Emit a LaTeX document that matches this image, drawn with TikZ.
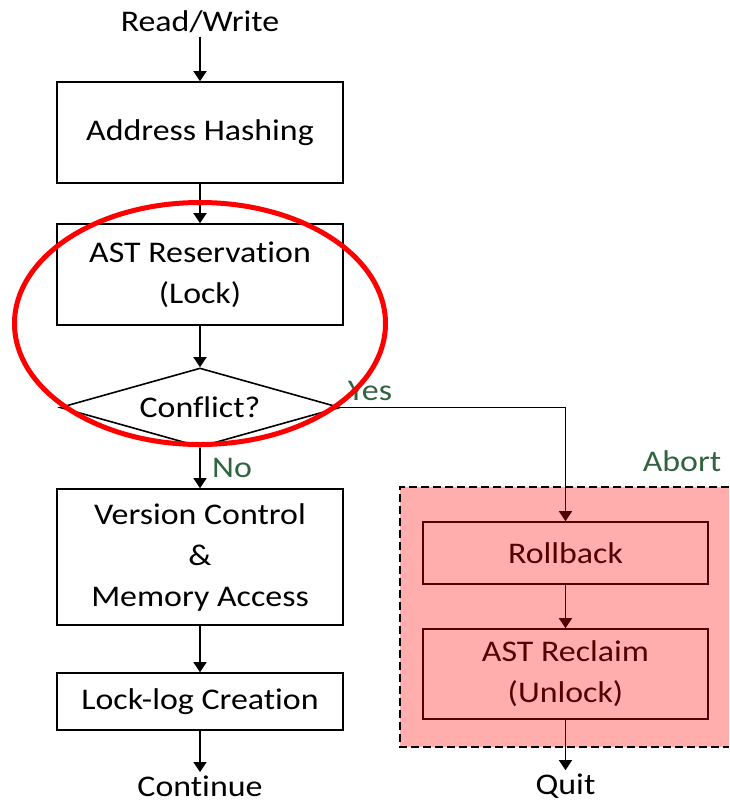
\documentclass[tikz,border=0pt]{standalone}
\usepackage{fontspec}
\setmainfont{Carlito}[FakeStretch=1.13,Ligatures=NoCommon]
\usetikzlibrary{arrows.meta,shapes.geometric}
\definecolor{lblgreen}{RGB}{49,99,64}
\begin{document}
\begin{tikzpicture}[x=1pt,y=-1pt,
  every node/.style={font=\fontsize{30}{41}\selectfont},
  box/.style={draw, line width=1.6pt, minimum width=286pt, align=center, inner sep=0pt},
  abox/.style={draw, line width=1.6pt, minimum width=285pt, align=center, inner sep=0pt},
  arr/.style={line width=1.6pt, -{Triangle[length=10pt,width=13pt]}},
  lbl/.style={text=lblgreen},
  abortborder/.style={line width=1.6pt, dash pattern=on 8pt off 4pt}]
\useasboundingbox (0,0) rectangle (729,804);
\node (rw) at (200,22) {Read/Write};
\node[box, minimum height=101pt] (ah) at (200,132.5) {Address Hashing};
\node[box, minimum height=101pt] (ast) at (200,274.5) {AST Reservation\\(Lock)};
\node[draw, diamond, line width=1.6pt, minimum width=280pt, minimum height=79pt, aspect=3.5, inner sep=0pt] (cf) at (200,407.5) {Conflict?};
\node[box, minimum height=136pt] (vc) at (200,557) {Version Control\\\&\\Memory Access};
\node[box, minimum height=57pt] (ll) at (200,701.5) {Lock-log Creation};
\node (cont) at (200,786) {Continue};
\node[abox, minimum height=62pt] (rb) at (565.5,553) {Rollback};
\node[abox, minimum height=90pt] (rc) at (565.5,674) {AST Reclaim\\(Unlock)};
\node (quit) at (565.5,786) {Quit};
\draw[arr] (rw) -- (ah);
\draw[arr] (ah) -- (ast);
\draw[arr] (ast) -- (cf);
\draw[arr] (cf) -- (vc);
\draw[arr] (vc) -- (ll);
\draw[arr] (ll) -- (cont);
\draw[arr] (cf.east) -| (rb.north);
\draw[arr] (rb) -- (rc);
\draw[arr] (rc) -- (quit);
\fill[red, fill opacity=0.32] (400,487) rectangle (729,747);
\draw[abortborder] (729,487) -- (400,487) -- (400,747) -- (729,747);
\node[lbl] (yes) at (370,391) {Yes};
\node[lbl] (no) at (232,468) {No};
\node[lbl] (abort) at (682,461) {Abort};
\draw[red, line width=5pt] (200,323.5) ellipse [x radius=185.5pt, y radius=121pt];
\end{tikzpicture}
\end{document}
